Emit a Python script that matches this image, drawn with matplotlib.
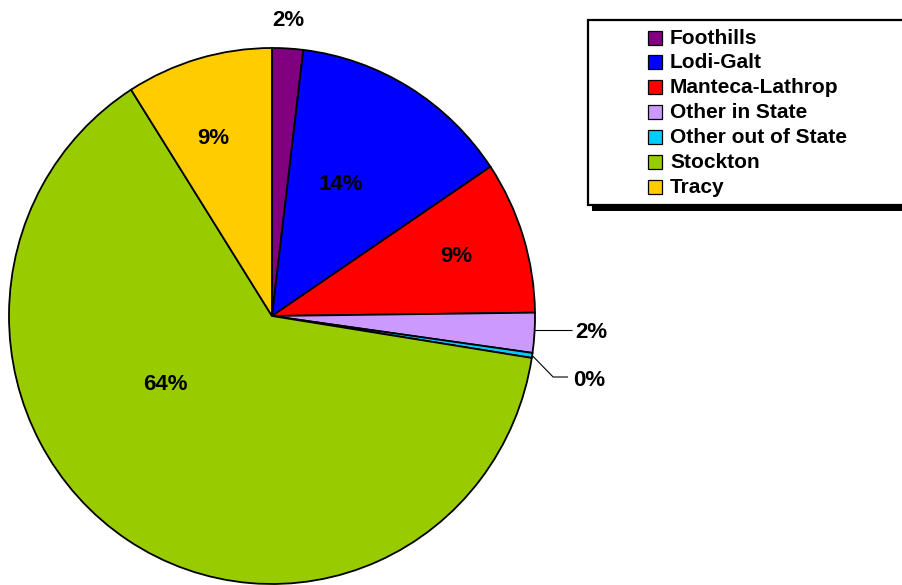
import matplotlib
matplotlib.use("Agg")
import matplotlib.pyplot as plt
from matplotlib.patches import Rectangle
import numpy as np

# Share of records by region
regions = ["Foothills", "Lodi-Galt", "Manteca-Lathrop", "Other in State",
           "Other out of State", "Stockton", "Tracy"]
shares = [1.9, 13.7, 9.2, 2.4, 0.3, 63.5, 9.0]
colors = ["#800080", "#0000FF", "#FF0000", "#CC99FF", "#00CCFF", "#99CC00", "#FFCC00"]

W, H = 903, 585
CX, CY = 272, 316          # pie centre in pixels
RX, RY = 263, 268          # pie radii in pixels

# label anchors (pixels) and whether they sit outside with a leader line
label_pos = [(288, 21), (341, 184), (456, 257), (575, 332), (573, 380), (165, 385), (213, 138)]
label_out = [False, False, False, True, True, False, False]

FONT = "Liberation Sans"

fig = plt.figure(figsize=(W / 100, H / 100), dpi=100)
fig.patch.set_facecolor("white")

# pie axes: one data unit = pie radius, slightly taller than wide
ax = fig.add_axes([0, 0, 1, 1])
wedges, _ = ax.pie(shares, colors=colors, startangle=90, counterclock=False,
                   radius=1.0,
                   wedgeprops=dict(edgecolor="black", linewidth=1.3))
ax.set_aspect("auto")
ax.set_xlim(-CX / RX, (W - CX) / RX)
ax.set_ylim((CY - H) / RY, CY / RY)
ax.axis("off")

# overlay axes in pixel coordinates for labels and legend
lax = fig.add_axes([0, 0, 1, 1], zorder=3)
lax.set_xlim(0, W)
lax.set_ylim(H, 0)
lax.axis("off")
lax.patch.set_alpha(0)

total = sum(shares)
cum = 0.0
for i, v in enumerate(shares):
    mid = (cum + v / 2) / total * 2 * np.pi
    cum += v
    tx, ty = label_pos[i]
    txt = f"{round(v)}%"
    if label_out[i]:
        ex = CX + RX * np.sin(mid)
        ey = CY - RY * np.cos(mid)
        if ty - ey > 10:
            xs = [ex, ex + 21, tx - 5]
            ys = [ey, ty - 3, ty - 3]
        else:
            xs = [ex, tx - 3]
            ys = [ty - 2, ty - 2]
        lax.plot(xs, ys, color="black", lw=0.8, solid_capstyle="butt")
        lax.text(tx, ty, txt, ha="left", va="center", fontsize=16,
                 fontweight="bold", family=FONT)
    else:
        lax.text(tx, ty, txt, ha="center", va="center", fontsize=16,
                 fontweight="bold", family=FONT)

# legend box with drop shadow, running off the right edge
bx, by, bw, bh = 588, 20, 400, 185
lax.add_patch(Rectangle((bx + 4, by + 6), bw, bh, facecolor="black",
                        edgecolor="none", zorder=1, clip_on=False))
lax.add_patch(Rectangle((bx, by), bw, bh, facecolor="white",
                        edgecolor="black", linewidth=1.6, zorder=2, clip_on=False))
row0, step = 37.5, 24.85
for i, (name, c) in enumerate(zip(regions, colors)):
    yc = row0 + i * step
    lax.add_patch(Rectangle((648, yc - 7), 14, 14, facecolor=c,
                            edgecolor="black", linewidth=0.9, zorder=3))
    lax.text(670, yc + 0.5, name, ha="left", va="center", fontsize=15,
             fontweight="bold", family=FONT, zorder=4)

fig.savefig("out.png", dpi=100)
